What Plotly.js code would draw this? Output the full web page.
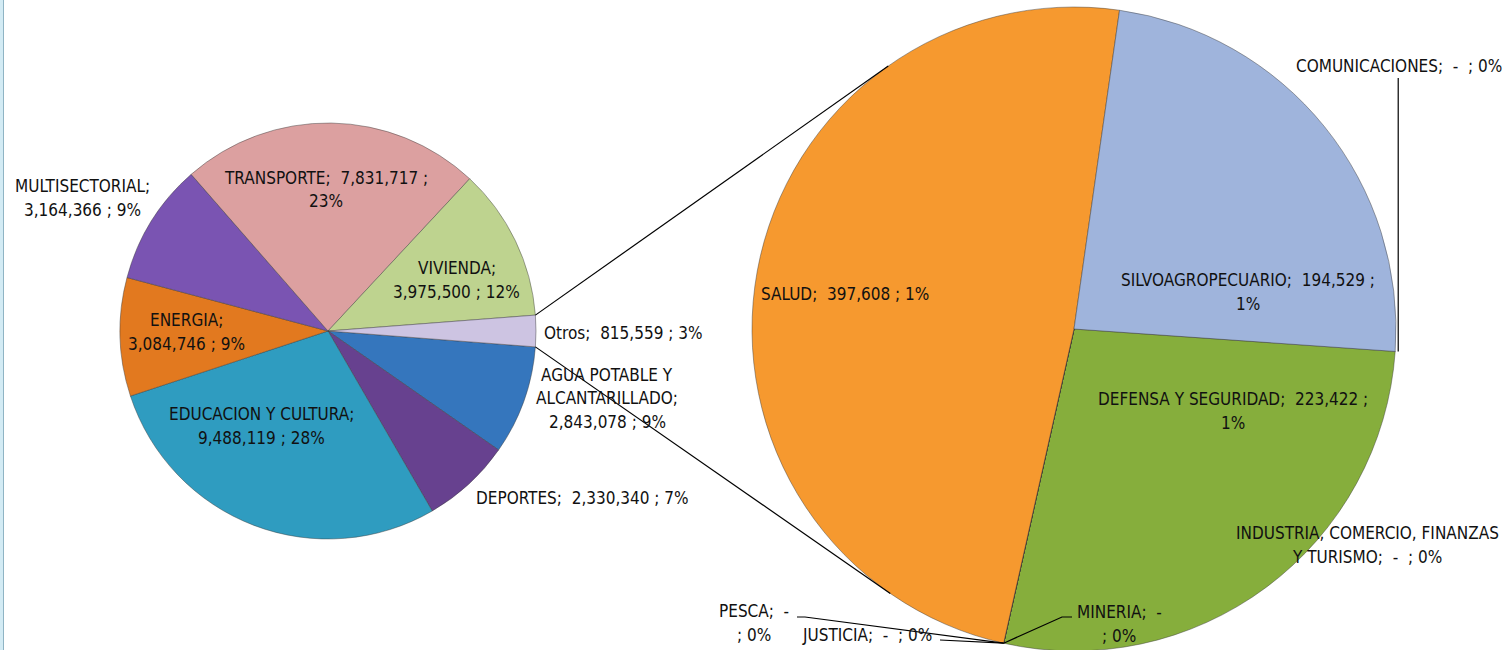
<!DOCTYPE html>
<html><head><meta charset="utf-8">
<script src="https://cdn.plot.ly/plotly-3.0.1.min.js"></script>
<style>html,body{margin:0;padding:0;overflow:hidden;background:#fff}#chart{width:1510px;height:670px}</style>
</head><body><div id="chart"></div>
<script>
// ---------- DATA ----------
const mainLabels = ["AGUA POTABLE Y ALCANTARILLADO","DEPORTES","EDUCACION Y CULTURA","ENERGIA","MULTISECTORIAL","TRANSPORTE","VIVIENDA","Otros"];
const mainValues = [2843078, 2330340, 9488119, 3084746, 3164366, 7831717, 3975500, 815559];
const mainPct    = ["9%","7%","28%","9%","9%","23%","12%","3%"];

const otherLabels = ["COMUNICACIONES","DEFENSA Y SEGURIDAD","INDUSTRIA, COMERCIO, FINANZAS Y TURISMO","JUSTICIA","MINERIA","PESCA","SALUD","SILVOAGROPECUARIO"];
const otherValues = [0, 223422, 0, 0, 0, 0, 397608, 194529];
const otherPct    = ["0%","1%","0%","0%","0%","0%","1%","1%"];

// ---------- STYLE / LAYOUT ----------
const mainColors  = ["#3576bd","#67418f","#2f9cc0","#e2791f","#7a54b2","#dca0a0","#bed38f","#cdc4e2"];
const otherColors = ["#8fb9dd","#86ae3c","#e0c060","#9a7ab8","#7a9a50","#60a0a0","#f6992f","#9fb4dc"];
const W = 1510, H = 670;
const LEFT  = {cx: 328,  cy: 331, r: 208};
const RIGHT = {cx: 1074, cy: 329, r: 322};
const ROT_RIGHT = 94;
const FONT = {family: "'Liberation Sans Narrow', 'Arial Narrow', 'DejaVu Sans Condensed', sans-serif", size: 17, color: "#111"};
const LINE_GAP = 23.5;

const px2x = x => x / W, px2y = y => 1 - y / H;
const sum = a => a.reduce((s, v) => s + v, 0);
const fmt = v => v.toLocaleString("en-US");
const labelText = (n, v, p) => n + ";  " + (v ? fmt(v) + " ; " : "-  ; ") + p;

function wrap(text, max) {
  const parts = text.split(/(\s+)/);
  const lines = []; let cur = parts[0];
  for (let i = 1; i < parts.length; i += 2) {
    const sep = parts[i], w = parts[i + 1];
    if ((cur + sep + w).length <= max) cur += sep + w;
    else { lines.push(cur); cur = w; }
  }
  lines.push(cur);
  return lines;
}

function domainOf(g) {
  return {x: [px2x(g.cx - g.r), px2x(g.cx + g.r)], y: [px2y(g.cy + g.r), px2y(g.cy - g.r)]};
}
function edgePt(g, aDeg) { // angle clockwise from 12 o'clock
  const a = aDeg * Math.PI / 180;
  return {x: g.cx + g.r * Math.sin(a), y: g.cy - g.r * Math.cos(a)};
}
function tangentPt(P, g, sign) {
  const dx = P.x - g.cx, dy = P.y - g.cy, d = Math.hypot(dx, dy);
  const th = Math.atan2(dy, dx) + sign * Math.acos(g.r / d);
  return {x: g.cx + g.r * Math.cos(th), y: g.cy + g.r * Math.sin(th)};
}

const mainTotal = sum(mainValues), otherTotal = sum(otherValues);
const otrosFrac = mainValues[mainValues.length - 1] / mainTotal;
const ROT_LEFT = 90 + 180 * otrosFrac;

const traces = [
  {type: "pie", labels: mainLabels, values: mainValues, sort: false, direction: "clockwise",
   rotation: ROT_LEFT, domain: domainOf(LEFT), textinfo: "none", hoverinfo: "skip", showlegend: false,
   marker: {colors: mainColors, line: {color: "rgba(60,60,60,0.45)", width: 1}}},
  {type: "pie", labels: otherLabels, values: otherValues, sort: false, direction: "clockwise",
   rotation: ROT_RIGHT, domain: domainOf(RIGHT), textinfo: "none", hoverinfo: "skip", showlegend: false,
   marker: {colors: otherColors, line: {color: "rgba(60,60,60,0.45)", width: 1}}}
];

// label placements (centre x, first-line y, wrap width in chars)
const mainPlace = {
  "AGUA POTABLE Y ALCANTARILLADO": [607, 375, 15],
  "DEPORTES": [582, 498, 30],
  "EDUCACION Y CULTURA": [261, 414, 20],
  "ENERGIA": [186, 320, 16],
  "MULTISECTORIAL": [82, 186, 16],
  "TRANSPORTE": [326, 178, 24],
  "VIVIENDA": [457, 268, 16],
  "Otros": [623, 333, 30]
};
const otherPlace = {
  "COMUNICACIONES": [1399, 66, 30],
  "DEFENSA Y SEGURIDAD": [1233, 399, 32],
  "INDUSTRIA, COMERCIO, FINANZAS Y TURISMO": [1367, 533, 30],
  "JUSTICIA": [867, 635, 30],
  "MINERIA": [1119, 612, 11],
  "PESCA": [754, 611, 9],
  "SALUD": [845, 294, 30],
  "SILVOAGROPECUARIO": [1248, 280, 30]
};

const annotations = [];
function addLabels(labels, values, pcts, place) {
  labels.forEach((n, i) => {
    const p = place[n]; if (!p) return;
    wrap(labelText(n, values[i], pcts[i]), p[2]).forEach((ln, k) => {
      annotations.push({xref: "paper", yref: "paper", x: px2x(p[0]), y: px2y(p[1] + k * LINE_GAP),
        xanchor: "center", yanchor: "middle", showarrow: false, text: ln.replace(/  /g, "&nbsp; "), font: FONT});
    });
  });
}
addLabels(mainLabels, mainValues, mainPct, mainPlace);
addLabels(otherLabels, otherValues, otherPct, otherPlace);

// connector lines between the pies (tangent lines)
const shapes = [];
const pathOf = pts => pts.map((p, i) => (i ? "L" : "M") + px2x(p.x) + "," + px2y(p.y)).join(" ");
const P1 = edgePt(LEFT, 90 - 180 * otrosFrac), P2 = edgePt(LEFT, 90 + 180 * otrosFrac);
const T1 = tangentPt(P1, RIGHT, 1), T2 = tangentPt(P2, RIGHT, -1);
[[P1, T1], [P2, T2]].forEach(seg => shapes.push({type: "path", xref: "paper", yref: "paper", layer: "above",
  path: pathOf(seg), line: {color: "#000", width: 1.2}}));

// leader lines for zero-valued slices in the secondary pie
const cumAngle = {};
let cum = 0;
otherLabels.forEach((n, i) => { cumAngle[n] = ROT_RIGHT + 360 * cum / otherTotal; cum += otherValues[i]; });
const leaders = {
  "COMUNICACIONES": s => [{x: s.x + 3, y: 78}, {x: s.x + 3, y: s.y}],
  "PESCA": s => [{x: 797, y: 617}, {x: 805, y: 617}, s],
  "JUSTICIA": s => [{x: 940, y: 640}, s],
  "MINERIA": s => [{x: 1072, y: 617}, {x: 1062, y: 617}, s]
};
Object.keys(leaders).forEach(n => {
  const s = edgePt(RIGHT, cumAngle[n]);
  shapes.push({type: "path", xref: "paper", yref: "paper", layer: "above", path: pathOf(leaders[n](s)),
    line: {color: "#000", width: 1.2}});
});

// left border of the original frame
shapes.push({type: "rect", xref: "paper", yref: "paper", x0: 0, x1: px2x(3), y0: 0, y1: 1,
  fillcolor: "#d3ebf4", line: {width: 0}, layer: "below"});
shapes.push({type: "line", xref: "paper", yref: "paper", x0: px2x(3.5), x1: px2x(3.5), y0: 0, y1: 1,
  line: {color: "#8fb4c4", width: 1}});

const layout = {width: W, height: H, margin: {l: 0, r: 0, t: 0, b: 0},
  paper_bgcolor: "#fff", plot_bgcolor: "#fff", showlegend: false, annotations, shapes};

Plotly.newPlot("chart", traces, layout, {displayModeBar: false, staticPlot: true});
</script></body></html>
